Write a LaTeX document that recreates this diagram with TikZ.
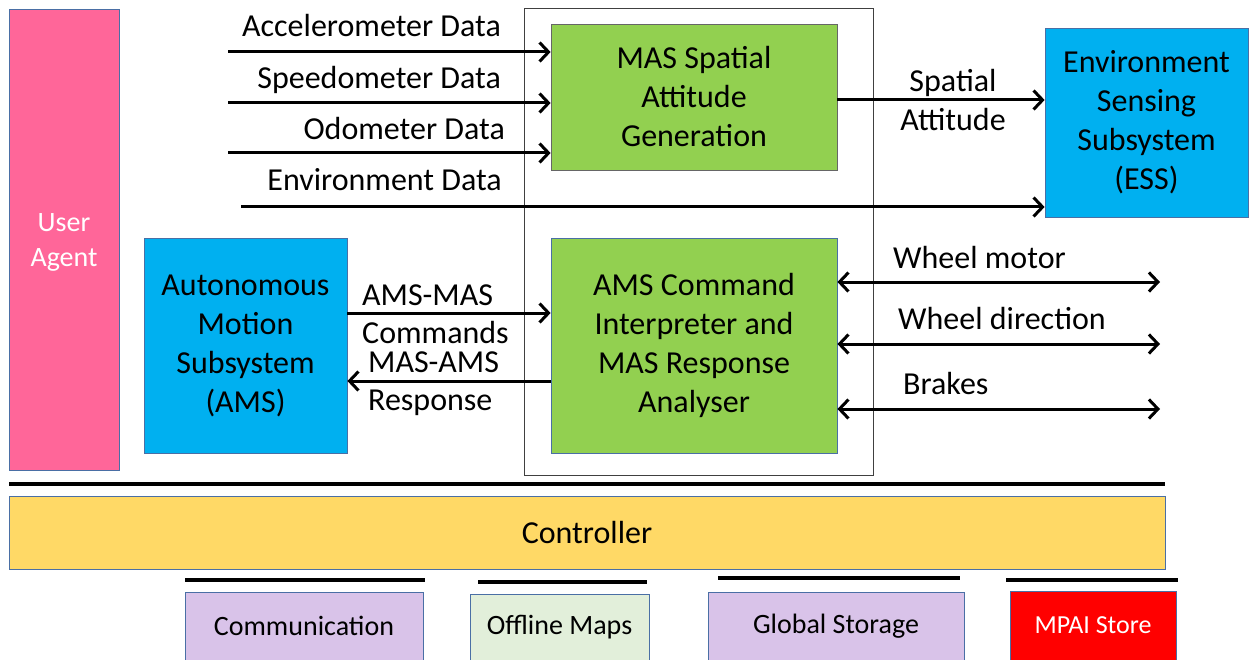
\documentclass[tikz,border=0pt]{standalone}
\usepackage{fontspec}
\setmainfont{Carlito}
\usetikzlibrary{arrows.meta}
\definecolor{pinkua}{HTML}{FF6699}
\definecolor{greenbox}{HTML}{92D050}
\definecolor{bluebox}{HTML}{00B0F0}
\definecolor{yellowbox}{HTML}{FFD966}
\definecolor{lilac}{HTML}{D9C3E9}
\definecolor{palegreen}{HTML}{E2EFDA}
\definecolor{redbox}{HTML}{FF0000}
\definecolor{edgeblue}{HTML}{4A6FA5}
\begin{document}
\begin{tikzpicture}[x=1pt,y=-1pt,
  blk/.style={rectangle, inner sep=0pt, align=center, line width=0.8pt,
    font=\fontsize{32}{39}\selectfont},
  small/.style={blk, font=\fontsize{28}{32}\selectfont},
  lbl/.style={inner sep=0pt, font=\fontsize{32}{39}\selectfont},
  flow/.style={line width=3pt, -{Straight Barb[length=9pt,width=19pt]}},
  both/.style={line width=3pt, {Straight Barb[length=9pt,width=19pt]}-{Straight Barb[length=9pt,width=19pt]}},
  bar/.style={line width=4.5pt}]
\useasboundingbox (0,0) rectangle (1249,660);

% outer frame around the two processing modules
\node[draw=black!75, line width=1pt, minimum width=349pt, minimum height=466pt] (core) at (698.5,242) {};

% main blocks
\node[blk, fill=pinkua, draw=edgeblue, minimum width=110pt, minimum height=461pt] (ua) at (64,239.5) {};
\node[lbl, text=white, align=center, font=\fontsize{28}{35}\selectfont] (uatext) at (64,242) {User\\Agent};
\node[blk, fill=greenbox, draw=black!60, minimum width=286pt, minimum height=146pt] (mas) at (694,97) {MAS Spatial\\Attitude\\Generation};
\node[blk, fill=bluebox, draw=edgeblue, minimum width=203pt, minimum height=189pt] (ess) at (1146.5,122.5) {Environment\\Sensing\\Subsystem\\(ESS)};
\node[blk, fill=bluebox, draw=edgeblue, minimum width=203pt, minimum height=215pt] (ams) at (245.5,345.5) {Autonomous\\Motion\\Subsystem\\(AMS)};
\node[blk, fill=greenbox, draw=edgeblue, minimum width=286pt, minimum height=215pt] (cmd) at (694,345.5) {AMS Command\\Interpreter and\\MAS Response\\Analyser};

% controller and supporting services
\node[blk, fill=yellowbox, draw=edgeblue, minimum width=1156pt, minimum height=73pt] (ctrl) at (587,532.5) {Controller};
\node[small, fill=lilac, draw=edgeblue, minimum width=238pt, minimum height=68pt] (comm) at (304,626) {Communication};
\node[small, fill=palegreen, draw=edgeblue, minimum width=179pt, minimum height=66pt] (maps) at (559.5,627) {Offline Maps};
\node[small, fill=lilac, draw=edgeblue, minimum width=256pt, minimum height=68pt] (gstore) at (836,626) {Global Storage};
\node[small, fill=redbox, draw=edgeblue, text=white, minimum width=166pt, minimum height=69pt, font=\fontsize{26}{30}\selectfont] (mpai) at (1093,625.5) {MPAI Store};

% free ends of the input and output connectors
\coordinate (acc) at (228,52);
\coordinate (spd) at (228,103);
\coordinate (odo) at (228,153);
\coordinate (env) at (241,207);
\coordinate (wm) at (1160,282);
\coordinate (wd) at (1160,344);
\coordinate (br) at (1160,409);

% sensor inputs
\draw[flow] (acc) -- (acc -| mas.west);
\draw[flow] (spd) -- (spd -| mas.west);
\draw[flow] (odo) -- (odo -| mas.west);
\draw[flow] (env) -- (env -| ess.west);
\node[lbl, anchor=base east] (accl) at (501,37) {Accelerometer Data};
\node[lbl, anchor=base east] (spdl) at (501,89) {Speedometer Data};
\node[lbl, anchor=base east] (odol) at (505,140) {Odometer Data};
\node[lbl, anchor=base east] (envl) at (502,191) {Environment Data};

% spatial attitude to ESS
\draw[flow] (mas.east |- 0,100) -- (ess.west |- 0,100);
\node[lbl, align=center] (spl) at (953,100) {Spatial\\Attitude};

% AMS exchange
\draw[flow] (ams.east |- 0,313) -- (cmd.west |- 0,313);
\draw[flow] (cmd.west |- 0,381) -- (ams.east |- 0,381);
\node[lbl, anchor=base west] (amsmas) at (362,305) {AMS-MAS};
\node[lbl, anchor=base west] (cmds) at (362,343) {Commands};
\node[lbl, anchor=base west] (masams) at (368,372) {MAS-AMS};
\node[lbl, anchor=base west] (resp) at (368,410) {Response};

% actuators
\draw[both] (cmd.east |- wm) -- (wm);
\draw[both] (cmd.east |- wd) -- (wd);
\draw[both] (cmd.east |- br) -- (br);
\node[lbl, anchor=base west] (wml) at (893,268) {Wheel motor};
\node[lbl, anchor=base west] (wdl) at (898,329) {Wheel direction};
\node[lbl, anchor=base west] (brl) at (903,394) {Brakes};

% separator bars
\coordinate (sepL) at (9,484);
\coordinate (sepR) at (1165,484);
\draw[bar] (sepL) -- (sepR);
\coordinate (c1) at (185,580); \coordinate (c2) at (425,580);
\coordinate (m1) at (478,582); \coordinate (m2) at (647,582);
\coordinate (g1) at (718,578); \coordinate (g2) at (960,578);
\coordinate (p1) at (1006,580); \coordinate (p2) at (1178,580);
\draw[bar] (c1) -- (c2);
\draw[bar] (m1) -- (m2);
\draw[bar] (g1) -- (g2);
\draw[bar] (p1) -- (p2);
\end{tikzpicture}
\end{document}
